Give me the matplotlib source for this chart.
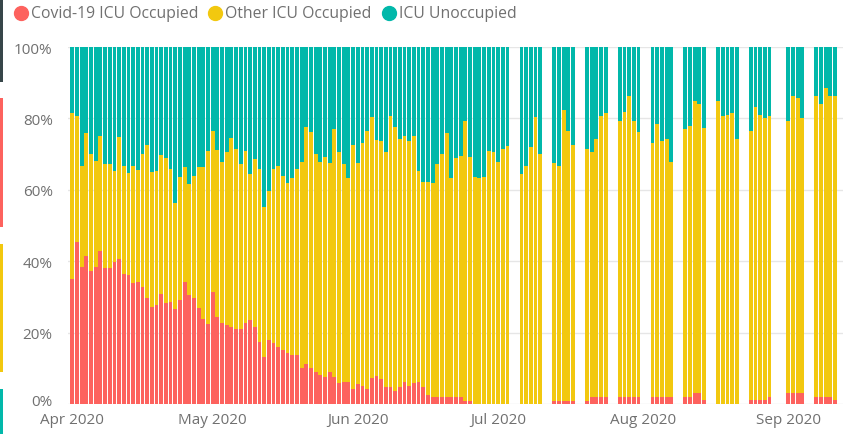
import numpy as np
import pandas as pd
import matplotlib
matplotlib.use("Agg")
import matplotlib.pyplot as plt
import matplotlib.transforms as mtransforms
from matplotlib.patches import Rectangle
from matplotlib.lines import Line2D

# --- data -----------------------------------------------------------------
# daily reporting until 3 July, weekdays only afterwards
daily_dates = pd.date_range("2020-04-01", "2020-07-03")
weekday_dates = pd.to_datetime([
    "2020-07-06", "2020-07-07", "2020-07-08", "2020-07-09", "2020-07-10",
    "2020-07-13", "2020-07-14", "2020-07-15", "2020-07-16", "2020-07-17",
    "2020-07-20", "2020-07-21", "2020-07-22", "2020-07-23", "2020-07-24",
    "2020-07-27", "2020-07-28", "2020-07-29", "2020-07-30", "2020-07-31",
    "2020-08-03", "2020-08-04", "2020-08-05", "2020-08-06", "2020-08-07",
    "2020-08-10", "2020-08-11", "2020-08-12", "2020-08-13", "2020-08-14",
    "2020-08-17", "2020-08-18", "2020-08-19", "2020-08-20", "2020-08-21",
    "2020-08-24", "2020-08-25", "2020-08-26", "2020-08-27", "2020-08-28",
    "2020-09-01", "2020-09-02", "2020-09-03", "2020-09-04",
    "2020-09-07", "2020-09-08", "2020-09-09", "2020-09-10", "2020-09-11",
])
dates = daily_dates.append(weekday_dates)

# share of ICU beds occupied by Covid-19 patients (%)
covid_pct = [
    35.0, 45.3, 38.3, 41.4, 37.2, 38.3, 42.9, 38.2, 38.2, 39.9,
    40.6, 36.4, 36.0, 33.9, 34.3, 32.7, 29.6, 27.3, 27.6, 30.8,
    28.2, 28.7, 26.6, 29.0, 34.1, 30.4, 29.6, 26.8, 23.8, 22.4,
    31.3, 24.3, 22.6, 22.0, 21.5, 21.0, 21.0, 22.6, 23.4, 21.5,
    17.3, 13.1, 17.8, 17.0, 16.1, 15.0, 14.2, 13.7, 13.6, 10.0,
    11.2, 10.0, 8.9, 8.2, 7.5, 8.9, 7.5, 5.8, 6.3, 6.3,
    4.2, 5.6, 5.1, 4.2, 7.2, 7.8, 7.0, 4.9, 4.9, 3.7,
    4.7, 6.1, 5.1, 5.8, 6.1, 4.7, 2.5, 1.9, 1.9, 1.9,
    1.9, 1.9, 1.9, 1.9, 0.9, 0.9, 0.0, 0.0, 0.0, 0.0,
    0.0, 0.0, 0.0, 0.0,
    0.0, 0.0, 0.0, 0.0, 0.0,
    0.9, 0.9, 0.9, 0.9, 0.9,
    0.9, 2.1, 2.1, 2.1, 2.1,
    2.1, 2.1, 2.1, 2.1, 2.1,
    2.1, 2.1, 2.1, 2.1, 2.1,
    2.1, 2.1, 3.1, 3.1, 1.1,
    0.0, 0.0, 0.0, 0.0, 0.0,
    1.1, 1.1, 1.1, 1.1, 2.1,
    3.1, 3.1, 3.1, 3.1,
    2.1, 2.1, 2.1, 2.1, 1.1,
]

# share of ICU beds occupied, all patients (%)
occupied_pct = [
    81.6, 80.7, 66.8, 76.0, 70.1, 68.2, 75.0, 67.3, 67.1, 65.2,
    74.8, 66.6, 64.8, 66.6, 65.6, 70.1, 72.6, 65.0, 65.4, 69.8,
    68.9, 65.9, 56.4, 63.6, 66.5, 61.7, 63.8, 66.5, 66.3, 71.0,
    76.4, 71.2, 67.9, 70.6, 74.5, 71.3, 67.3, 71.0, 64.5, 68.5,
    65.9, 55.1, 59.6, 65.9, 66.8, 63.8, 61.9, 63.3, 65.9, 67.9,
    77.6, 76.2, 70.1, 67.9, 69.2, 67.5, 77.1, 70.6, 67.3, 63.3,
    72.6, 67.5, 73.2, 76.4, 80.4, 74.0, 73.8, 70.6, 80.8, 77.6,
    74.3, 75.2, 73.6, 75.0, 65.2, 62.1, 62.1, 61.9, 67.3, 70.1,
    75.9, 63.3, 69.0, 69.4, 79.4, 69.2, 63.6, 63.3, 63.6, 71.0,
    70.6, 67.8, 71.5, 72.4,
    64.3, 66.8, 72.1, 80.4, 69.9,
    67.6, 66.6, 82.4, 76.4, 72.6,
    71.5, 70.6, 74.3, 80.7, 81.6,
    79.4, 81.8, 86.3, 79.4, 76.2,
    73.2, 78.5, 73.8, 74.3, 67.9,
    77.1, 77.8, 84.9, 84.1, 77.3,
    85.0, 80.6, 81.0, 81.6, 74.3,
    76.4, 83.2, 81.0, 80.1, 80.7,
    79.2, 86.4, 85.7, 80.1,
    86.4, 83.9, 88.5, 86.3, 86.3,
]

month_ticks = ["2020-04-01", "2020-05-01", "2020-06-01",
               "2020-07-01", "2020-08-01", "2020-09-01"]
month_labels = ["Apr 2020", "May 2020", "Jun 2020",
                "Jul 2020", "Aug 2020", "Sep 2020"]
series_names = ["Covid-19 ICU Occupied", "Other ICU Occupied", "ICU Unoccupied"]

# --- styling ---------------------------------------------------------------
RED = "#FD625E"
YELLOW = "#F2C80F"
TEAL = "#01B8AA"
DARK = "#374649"
TEXT = "#707070"
plt.rcParams["font.family"] = ["Open Sans", "DejaVu Sans"]

covid = np.array(covid_pct)
occupied = np.array(occupied_pct)
other = occupied - covid
unoccupied = 100 - occupied

start = pd.Timestamp("2020-04-01")
x = (dates - start).days.values
tick_x = (pd.to_datetime(month_ticks) - start).days.values

W, H = 843, 435
fig = plt.figure(figsize=(W / 100, H / 100), dpi=100)
ax = fig.add_axes([68 / W, 30 / H, 775 / W, 357 / H])

bw = 0.82
ax.bar(x, covid, width=bw, color=RED, linewidth=0)
ax.bar(x, other, width=bw, bottom=covid, color=YELLOW, linewidth=0)
ax.bar(x, unoccupied, width=bw, bottom=occupied, color=TEAL, linewidth=0)

ax.set_xlim(-0.92, 164.7)
ax.set_ylim(0, 100)
ax.set_yticks([0, 20, 40, 60, 80, 100])
ax.set_yticklabels(["0%", "20%", "40%", "60%", "80%", "100%"])
ax.set_xticks(tick_x)
ax.set_xticklabels(month_labels)
ax.tick_params(axis="both", length=0, labelsize=11, labelcolor=TEXT)
ax.tick_params(axis="y", pad=11)
ax.tick_params(axis="x", pad=5.5)
ax.yaxis.grid(True, color="#E6E6E6", linewidth=1)
ax.set_axisbelow(True)
for s in ax.spines.values():
    s.set_visible(False)

# lift the "0%" label a touch so it clears the month labels
zero_lbl = ax.yaxis.get_major_ticks()[0].label1
zero_lbl.set_transform(zero_lbl.get_transform() +
                       mtransforms.ScaledTranslation(0, 3 / 72, fig.dpi_scale_trans))

# thin palette strip down the left edge of the page
for y0, y1, col in [(0, 83, DARK), (99, 228, RED), (245, 373, YELLOW), (390, 435, TEAL)]:
    fig.add_artist(Rectangle((0, 1 - y1 / H), 3 / W, (y1 - y0) / H,
                             transform=fig.transFigure, color=col, linewidth=0))

# legend row along the top
renderer = fig.canvas.get_renderer()
cx = 21
cy = 1 - 14 / H
for name, col in zip(series_names, [RED, YELLOW, TEAL]):
    fig.add_artist(Line2D([cx / W], [cy], marker="o", markersize=10,
                          color=col, linestyle="none", transform=fig.transFigure))
    t = fig.text((cx + 10) / W, cy, name, fontsize=11.3, color=TEXT,
                 va="center", ha="left")
    bb = t.get_window_extent(renderer)
    cx = bb.x1 + 17

fig.savefig("out.png", dpi=100)
